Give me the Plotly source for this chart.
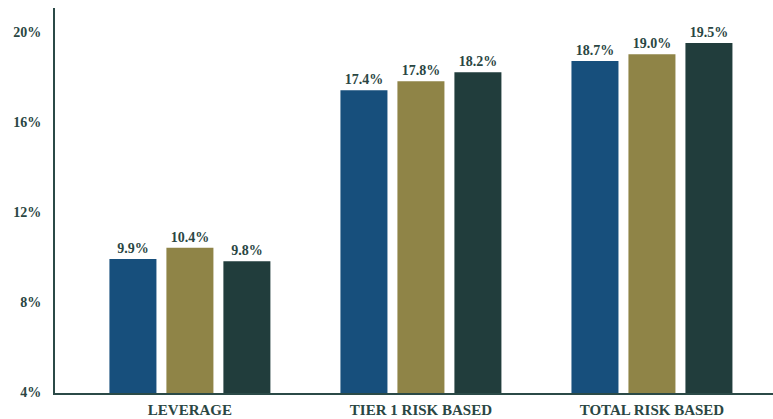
import plotly.graph_objects as go

categories = ["LEVERAGE", "TIER 1 RISK BASED", "TOTAL RISK BASED"]
series_names = ["Series 1", "Series 2", "Series 3"]
series_values = [
    [9.9, 17.4, 18.7],
    [10.4, 17.8, 19.0],
    [9.8, 18.2, 19.5],
]
series_colors = ["#174f7c", "#8f8447", "#213d3c"]
y_ticks = [4, 8, 12, 16, 20]

text_color = "#2a4643"
font_family = "Liberation Serif"

fig = go.Figure()
for name, vals, color in zip(series_names, series_values, series_colors):
    fig.add_trace(go.Bar(
        x=categories,
        y=vals,
        name=name,
        marker=dict(color=color, line=dict(width=0)),
        texttemplate="<b>%{y:.1f}%</b>",
        textposition="outside",
        textfont=dict(family=font_family, size=14, color=text_color),
        cliponaxis=False,
    ))

fig.update_layout(
    width=773,
    height=419,
    margin=dict(l=55, r=0, t=8, b=26),
    paper_bgcolor="white",
    plot_bgcolor="white",
    showlegend=False,
    barmode="group",
    bargap=0.26,
    bargroupgap=0.175,
    font=dict(family=font_family, color=text_color),
)
fig.update_xaxes(
    type="category",
    range=[-0.584, 2.524],
    showline=True,
    linecolor="#2b4a47",
    linewidth=2,
    showgrid=False,
    ticks="",
    tickfont=dict(family=font_family, size=15, color=text_color, weight="bold"),
    ticklabelstandoff=2,
)
fig.update_yaxes(
    range=[3.95, 21.05],
    tickvals=y_ticks,
    ticktext=[f"{v}%" for v in y_ticks],
    showline=True,
    linecolor="#2b4a47",
    linewidth=2,
    showgrid=False,
    zeroline=False,
    ticks="",
    ticklabelstandoff=9,
    tickfont=dict(family=font_family, size=14, color=text_color, weight="bold"),
)

fig.write_html("out.html")
